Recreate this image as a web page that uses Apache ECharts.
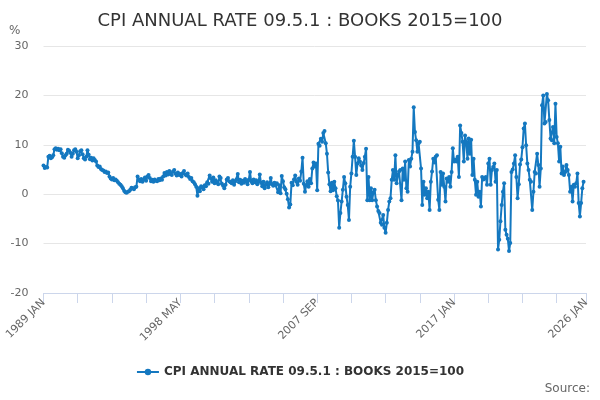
<!DOCTYPE html>
<html>
<head>
<meta charset="utf-8">
<script src="https://cdn.jsdelivr.net/npm/echarts@6/dist/echarts.min.js"></script>
<style>
  html, body { margin: 0; padding: 0; background: #fff; }
  #main { width: 600px; height: 400px; }
</style>
</head>
<body>
<div id="main"></div>
<script>
// series name and axis settings
var seriesName = 'CPI ANNUAL RATE 09.5.1 : BOOKS 2015=100';
var monthNames = ['JAN', 'FEB', 'MAR', 'APR', 'MAY', 'JUN', 'JUL', 'AUG', 'SEP', 'OCT', 'NOV', 'DEC'];
var firstYear = 1989;
var lastYear = 2026; // axis runs to 2026 JAN
var yTicks = [-20, -10, 0, 10, 20, 30];

// monthly annual rate, % (1989 JAN onwards)
var rate1989 = [
    5.8, 5.3, 5.5, 5.4, 7.6, 7.8, 7.3, 7.5, 7.9, 9.1,
    9.3, 9.0, 9.2, 8.9, 9.1, 8.3, 7.6, 7.4, 7.9, 8.2,
    9.0, 8.8, 8.4, 7.6, 8.2, 8.9, 9.1, 8.6, 7.3, 7.9,
    8.7, 8.9, 8.1, 7.3, 7.0, 7.6, 8.9, 8.0, 7.1, 7.4,
    6.8, 7.3, 6.9, 6.6, 5.8, 5.5, 5.6, 5.1, 4.9, 4.8,
    4.5, 4.6, 4.3, 4.4, 3.6, 3.2, 3.0, 3.3, 2.8, 3.0,
    2.7, 2.4, 2.1, 1.9, 1.6, 1.2, 0.7, 0.4, 0.3, 0.5,
    0.6, 0.9, 1.3, 1.2, 1.0, 1.4, 1.5, 3.6
];
var rate1995 = [
    3.0, 2.6, 3.1, 2.5, 2.9, 3.4, 2.7, 3.6, 3.9, 3.3,
    2.6, 2.9, 2.5, 3.0, 2.7, 2.6, 3.1, 2.8, 3.2, 2.9,
    3.6, 4.3, 3.8, 4.5, 4.0, 4.7, 4.1, 3.9, 4.6, 4.9,
    4.2, 3.8, 4.4, 3.9, 4.1, 3.6, 4.3, 4.7, 4.0, 3.8,
    4.2, 3.5, 3.1, 3.3, 2.6, 2.4, 2.0, 1.5, -0.3, 1.2,
    0.6, 1.6, 1.4, 1.0, 1.8, 1.6, 2.4, 2.1, 3.8, 3.2,
    2.5, 3.4, 2.2, 2.8, 2.4, 2.0, 3.6, 3.3, 2.1, 1.7,
    1.2, 1.9, 3.0, 3.3, 2.6, 2.4
];
var rate2001 = [
    2.2, 2.8, 1.9, 2.6, 3.0, 4.1, 2.4, 2.9, 2.1, 2.7,
    2.3, 3.1, 2.5, 2.0, 2.9, 4.5, 2.6, 2.2, 3.0, 2.4,
    2.8, 2.0, 2.6, 4.0, 2.3, 1.6, 2.5, 1.2, 1.9, 2.4,
    1.4, 2.1, 3.3, 2.0, 1.7, 2.3, 1.8, 2.2, 0.4, 1.8,
    0.2, 3.7, 2.6, 1.4, 1.0, 0.1, -1.0, -2.7, -2.1, 2.3,
    1.8, 3.0, 3.8, 2.5, 1.9, 3.2, 2.7, 4.6, 7.4, 2.1,
    0.5, 1.8, 2.6, 1.5, 3.1, 2.2, 5.2, 6.4, 5.6, 6.2,
    0.8
];
var rate2007 = [
    10.2, 9.8, 11.2, 10.6, 12.4, 12.8, 10.3, 8.2, 4.4, 2.0,
    0.6, 2.3, 0.8, 2.5, 1.2, -0.4, -1.3, -6.8, -3.8, -1.5,
    0.9, 3.5, 2.2, -0.5, -2.2, -5.2, 1.5, 4.2, 7.6, 10.8,
    7.6, 3.9, 6.2, 7.3, 6.6, 5.8, 4.9, 6.3, 7.6, 9.2,
    -1.2
];
var rate2011 = [
    3.5, -1.2, 1.2, -1.2, 0.4, 0.9, -1.2, -2.5, -3.4, -3.8,
    -5.8, -6.2, -4.2, -6.8, -7.8, -5.8, -3.2, -1.5, -0.8, 2.9,
    4.9, 2.9, 7.9, 2.2, 3.9, 4.6, 4.9, -1.2, 5.2, 2.9,
    6.6, 1.2, 0.5, 6.9, 5.6, 7.2, 8.6, 17.6, 12.6, 10.9,
    8.6, 10.3, 10.6
];
var rate2014 = [
    5.2, -2.2, 2.5, -0.1, 1.2, -0.8, 0.5, -3.2, 2.5, 4.6,
    7.2, 6.4, 7.6, 7.9, -1.1, -3.2, 4.5, 1.9, 4.2, 1.5,
    -1.5, 3.2, 2.5, 3.5, 1.5, 4.5, 9.3, 6.6, 7.0, 6.6,
    7.6, 3.5, 13.9, 12.4, 10.6, 6.6, 11.9, 10.6, 7.2, 11.3,
    8.2, 11.0
];
var rate2018 = [
    3.9, 7.2, 2.9, -0.1, 2.5, -0.5, 0.5, -2.5, 3.5, 3.0,
    3.2, 3.5, 1.9, 6.2, 7.2, 1.9, 4.9, 5.5, 6.2, 2.5,
    4.9, -11.2, -9.2, -5.5, -2.2, 0.5, 2.2, -7.2, -8.2, -9.0,
    -11.5, -9.9, 4.5, 5.0, 6.2, 7.9, 3.5, -0.8, 2.0, 6.0,
    7.0, 9.5, 13.3, 14.3
];
var rate2021 = [
    9.9, 6.2, 4.9, 2.9, 2.5, -3.2, 0.5, 4.5, 4.2, 8.2,
    5.9, 1.5, 5.2, 18.0, 20.0, 14.3, 14.6, 20.3, 19.0, 15.0,
    11.3, 10.9, 13.6, 10.3, 18.3, 11.6, 10.3, 6.6, 9.6, 4.2,
    5.6, 3.9, 4.5, 5.9, 4.9, 3.9, 0.5, 1.5, -1.5, 1.9,
    1.5, 2.2, 4.2, -1.8, -4.5, -1.8, 1.2, 2.5
];

var values = [].concat(rate1989, rate1995, rate2001, rate2007, rate2011, rate2014, rate2018, rate2021);

// month categories, 1989 JAN .. 2026 JAN
var categories = [];
for (var y = firstYear; y <= lastYear; y++) {
    for (var m = 0; m < 12; m++) {
        if (y === lastYear && m > 0) break;
        categories.push(y + ' ' + monthNames[m]);
    }
}
var lastIdx = categories.length - 1;

var myChart = echarts.init(document.getElementById('main'), null, { renderer: 'canvas' });

var option = {
    animation: false,
    textStyle: { fontFamily: 'DejaVu Sans' },
    title: {
        text: seriesName,
        left: 'center',
        top: 7,
        textStyle: { fontSize: 18, fontWeight: 'normal', color: '#333333', fontFamily: 'DejaVu Sans' }
    },
    legend: {
        data: [seriesName],
        bottom: 17,
        left: 'center',
        itemWidth: 22,
        itemHeight: 8,
        textStyle: { fontSize: 12, fontWeight: 'bold', color: '#333333', fontFamily: 'DejaVu Sans' }
    },
    grid: { left: 43.5, right: 14, top: 46, bottom: 107, containLabel: false },
    xAxis: {
        type: 'category',
        data: categories,
        boundaryGap: false,
        axisLine: { onZero: false, lineStyle: { color: '#ccd6eb', width: 1 } },
        axisTick: {
            length: 10,
            lineStyle: { color: '#ccd6eb' },
            interval: function (idx) { return idx % 28 === 0 || idx === lastIdx; }
        },
        axisLabel: {
            rotate: 45,
            margin: 8,
            color: '#666666',
            fontSize: 11,
            interval: function (idx) { return idx % 112 === 0 || idx === lastIdx; }
        },
        splitLine: { show: false }
    },
    yAxis: {
        type: 'value',
        min: yTicks[0],
        max: yTicks[yTicks.length - 1],
        interval: 10,
        axisLine: { show: false },
        axisTick: { show: false },
        axisLabel: { color: '#666666', fontSize: 11, margin: 15 },
        splitLine: { lineStyle: { color: '#e6e6e6', width: 1 } }
    },
    graphic: [
        { type: 'text', left: 9, top: 25, style: { text: '%', fill: '#666666', fontSize: 12, fontFamily: 'DejaVu Sans' } },
        { type: 'text', right: 10, top: 383, style: { text: 'Source:', fill: '#666666', fontSize: 12, fontFamily: 'DejaVu Sans' } }
    ],
    series: [
        {
            name: seriesName,
            type: 'line',
            data: values,
            symbol: 'circle',
            symbolSize: 4,
            showAllSymbol: true,
            lineStyle: { color: '#1478c0', width: 2 },
            itemStyle: { color: '#1478c0' },
            emphasis: { disabled: true }
        }
    ]
};

myChart.setOption(option);
</script>
</body>
</html>
